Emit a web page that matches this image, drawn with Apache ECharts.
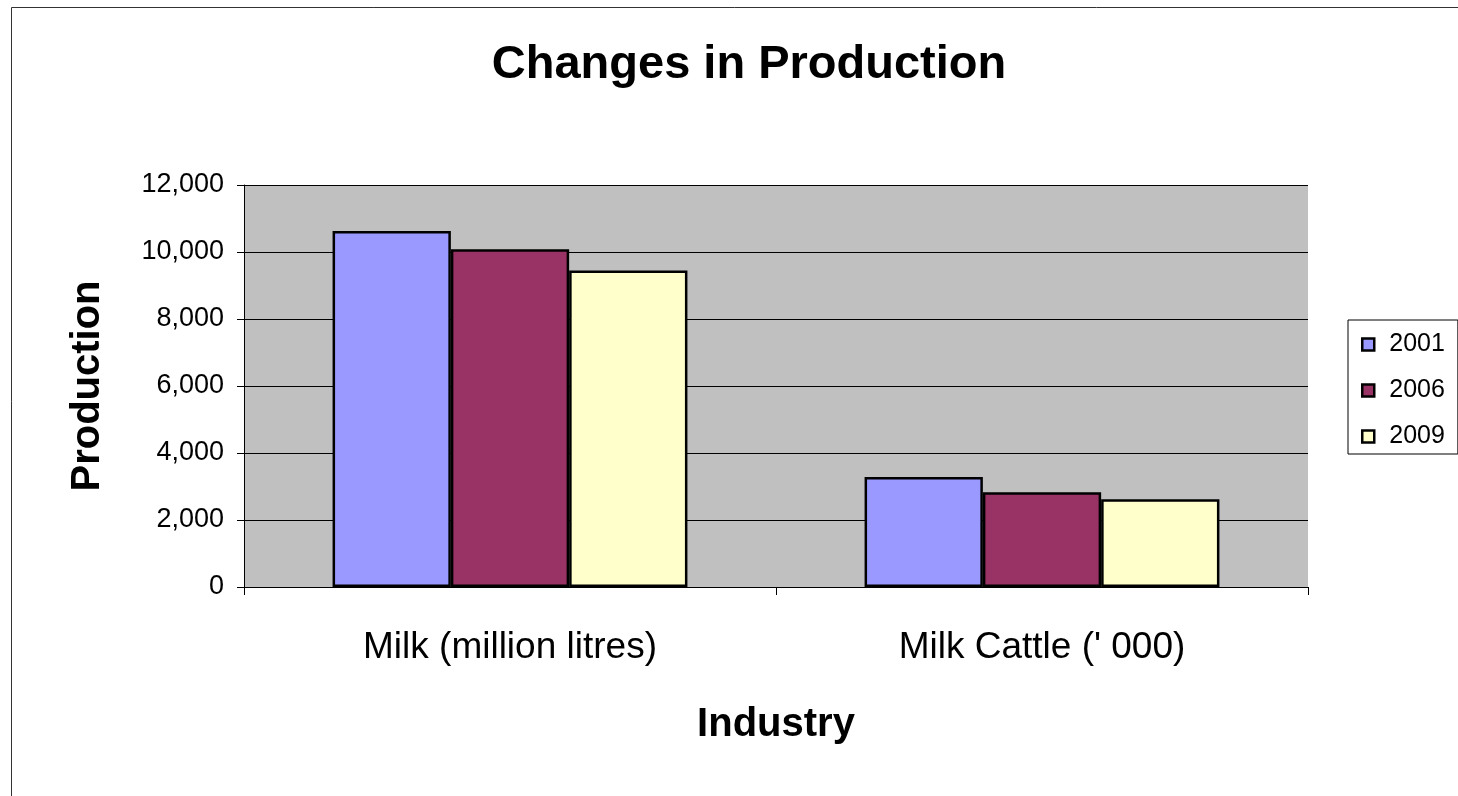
<!DOCTYPE html>
<html>
<head>
<meta charset="utf-8">
<script src="https://cdn.jsdelivr.net/npm/echarts@6/dist/echarts.min.js"></script>
<style>
html,body{margin:0;padding:0;background:#fff;}
#chart{width:1458px;height:796px;}
</style>
</head>
<body>
<div id="chart"></div>
<script>
const categories = ['Milk (million litres)', "Milk Cattle (' 000)"];
const seriesNames = ['2001', '2006', '2009'];
const values2001 = [10630, 3280];
const values2006 = [10080, 2830];
const values2009 = [9450, 2620];
const seriesColors = ['#9999FF', '#993366', '#FFFFCC'];
const yTicks = { min: 0, max: 12000, interval: 2000 };

const chart = echarts.init(document.getElementById('chart'));
const dataSets = [values2001, values2006, values2009];
const font = '"Liberation Sans", Arial, sans-serif';

chart.setOption({
  backgroundColor: '#ffffff',
  animation: false,
  title: {
    text: 'Changes in Production',
    left: 744, top: 37, textAlign: 'center',
    textStyle: { fontFamily: font, fontSize: 47, fontWeight: 'bold', color: '#000' }
  },
  graphic: [{
    type: 'polyline',
    shape: { points: [[11.5, 796], [11.5, 7.5], [1458, 7.5]] },
    style: { stroke: '#333', lineWidth: 1, fill: null }
  }],
  legend: {
    orient: 'vertical',
    left: 1348, top: 320,
    padding: [12, 13, 5, 13],
    itemGap: 21,
    itemWidth: 12, itemHeight: 12,
    icon: 'rect',
    itemStyle: { borderColor: '#000', borderWidth: 2.5 },
    borderColor: '#000', borderWidth: 1,
    textStyle: { fontFamily: font, fontSize: 25, color: '#000', padding: [0, 0, 0, 10] },
    data: seriesNames
  },
  grid: {
    left: 244, right: 150, top: 185, bottom: 209,
    show: true, backgroundColor: '#C0C0C0', borderWidth: 0
  },
  xAxis: {
    type: 'category',
    data: categories,
    name: 'Industry',
    nameLocation: 'middle',
    nameGap: 118,
    nameTextStyle: { fontFamily: font, fontSize: 40, fontWeight: 'bold', color: '#000' },
    axisLine: { lineStyle: { color: '#000', width: 1 } },
    axisTick: { show: true, length: 8, lineStyle: { color: '#000' } },
    axisLabel: { fontFamily: font, fontSize: 37, color: '#000', margin: 42 }
  },
  yAxis: {
    type: 'value',
    min: yTicks.min, max: yTicks.max, interval: yTicks.interval,
    name: 'Production',
    nameLocation: 'middle',
    nameGap: 136,
    nameTextStyle: { fontFamily: font, fontSize: 40, fontWeight: 'bold', color: '#000' },
    axisLine: { show: true, lineStyle: { color: '#000', width: 1 } },
    axisTick: { show: true, length: 7, lineStyle: { color: '#000' } },
    axisLabel: {
      fontFamily: font, fontSize: 27, color: '#000', margin: 20,
      formatter: v => v.toLocaleString('en-US')
    },
    splitLine: { show: true, lineStyle: { color: '#000', width: 1 } }
  },
  series: seriesNames.map((n, i) => ({
    name: n,
    type: 'bar',
    data: dataSets[i],
    barGap: '0%',
    barCategoryGap: '33.3%',
    itemStyle: { color: seriesColors[i], borderColor: '#000', borderWidth: 2.5 }
  }))
});
</script>
</body>
</html>
